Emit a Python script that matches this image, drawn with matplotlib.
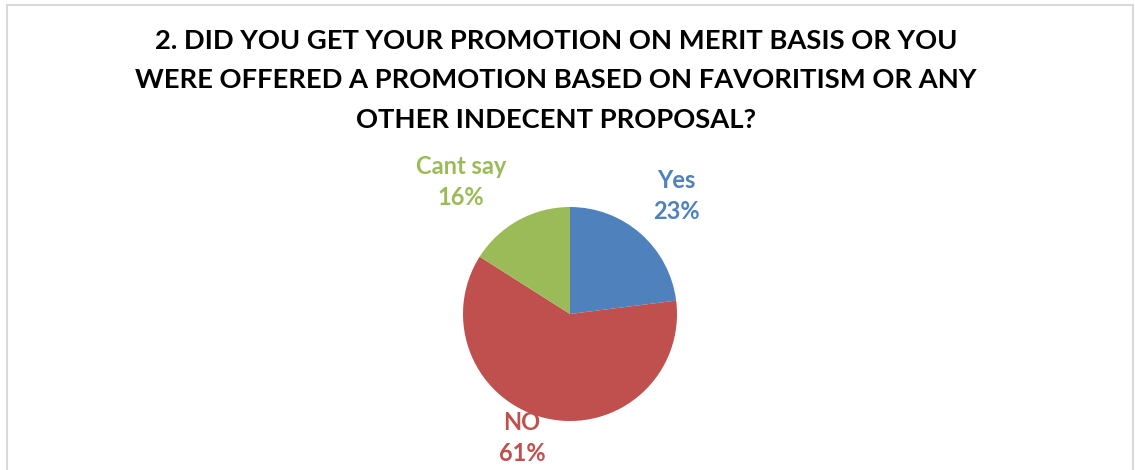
import matplotlib.pyplot as plt
from matplotlib.patches import Rectangle

# survey answers, clockwise from the top
answers = ['Yes', 'NO', 'Cant say']
shares = [23, 61, 16]
colors = ['#4F81BD', '#C0504D', '#9BBB59']

title_lines = [
    '2. DID YOU GET YOUR PROMOTION ON MERIT BASIS OR YOU',
    'WERE OFFERED A PROMOTION BASED ON FAVORITISM OR ANY',
    'OTHER INDECENT PROPOSAL?',
]

W, H = 1135, 470
fig = plt.figure(figsize=(W / 100, H / 100), dpi=100)
ax = fig.add_axes([0, 0, 1, 1])

# chart frame (bottom edge runs off the page)
ax.add_patch(Rectangle((6.5, -10), 1126, 475, fill=False,
                       edgecolor='#D9D9D9', linewidth=1.5))

wedges, _ = ax.pie(shares, colors=colors, startangle=90, counterclock=False,
                   center=(570, 156), radius=107, frame=True)
for w in wedges:
    w.set_zorder(3)
ax.set_xlim(0, W)
ax.set_ylim(0, H)
ax.set_aspect('equal')
ax.axis('off')

# label anchor points (pixels), labels sit under the wedges
label_pos = [(676, 274), (522, 32), (461, 288)]
for name, val, col, (lx, ly) in zip(answers, shares, colors, label_pos):
    ax.text(lx, ly, f'{name}\n{val}%', color=col, fontsize=17,
            fontweight='bold', family='Lato', ha='center', va='center',
            linespacing=1.4, zorder=1)

for i, line in enumerate(title_lines):
    ax.text(556, 429 - i * 39.5, line, fontsize=19.7, fontweight='bold',
            family='Lato', ha='center', va='center', color='black')

fig.savefig('out.png', dpi=100)
